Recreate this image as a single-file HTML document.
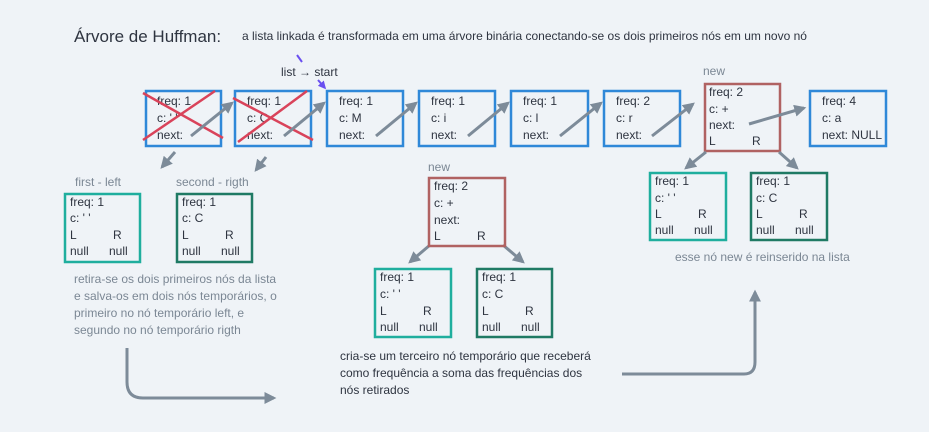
<!DOCTYPE html>
<html><head><meta charset="utf-8"><style>
html,body{margin:0;padding:0;background:#eff3f7;}
svg{display:block;font-family:"Liberation Sans",sans-serif;}
.t{font-size:12px;fill:#2e3440;}
.g{font-size:12px;fill:#7b8794;}
</style></head><body>
<svg width="929" height="432" viewBox="0 0 929 432" xmlns="http://www.w3.org/2000/svg">
<defs>
<marker id="a" viewBox="0 0 10 10" refX="8" refY="5" markerWidth="4" markerHeight="4" orient="auto"><path d="M0,0L10,5L0,10z" fill="#7d8b99"/></marker>
<marker id="p" viewBox="0 0 10 10" refX="8" refY="5" markerWidth="4" markerHeight="4" orient="auto"><path d="M0,0L10,5L0,10z" fill="#6a4ff0"/></marker>
</defs>
<rect width="929" height="432" fill="#eff3f7"/>
<text x="74" y="42" style="font-size:17px;fill:#2e3440">Árvore de Huffman:</text>
<text x="242" y="40" class="t" style="font-size:12px">a lista linkada é transformada em uma árvore binária conectando-se os dois primeiros nós  em um novo nó</text>
<text x="281" y="76" class="t">list → start</text>
<line x1="297" y1="55" x2="302" y2="62" stroke="#6a4ff0" stroke-width="2"/>
<line x1="318" y1="80" x2="325" y2="88" stroke="#6a4ff0" stroke-width="2" marker-end="url(#p)"/>
<g fill="none" stroke="#2f88d8" stroke-width="2.5">
<rect x="146" y="91" width="75" height="55"/><rect x="235" y="91" width="76" height="55"/>
<rect x="327" y="91" width="76" height="55"/><rect x="419" y="91" width="76" height="55"/>
<rect x="511" y="91" width="77" height="55"/><rect x="604" y="91" width="76" height="55"/>
<rect x="810" y="91" width="76" height="55"/>
</g>
<rect x="705" y="84" width="75" height="67" fill="none" stroke="#b06262" stroke-width="2.5"/>
<g class="t">
<text x="157" y="105">freq: 1</text><text x="157" y="122">c: ' '</text><text x="157" y="139">next:</text>
<text x="247" y="105">freq: 1</text><text x="247" y="122">c: C</text><text x="247" y="139">next:</text>
<text x="339" y="105">freq: 1</text><text x="339" y="122">c: M</text><text x="339" y="139">next:</text>
<text x="431" y="105">freq: 1</text><text x="431" y="122">c: i</text><text x="431" y="139">next:</text>
<text x="523" y="105">freq: 1</text><text x="523" y="122">c: l</text><text x="523" y="139">next:</text>
<text x="616" y="105">freq: 2</text><text x="616" y="122">c: r</text><text x="616" y="139">next:</text>
<text x="709" y="96">freq: 2</text><text x="709" y="113">c: +</text><text x="709" y="129">next:</text><text x="709" y="145">L</text><text x="752" y="145">R</text>
<text x="822" y="105">freq: 4</text><text x="822" y="122">c: a</text><text x="822" y="139">next: NULL</text>
</g>
<text x="703" y="75" class="g">new</text>
<g stroke="#d9435a" stroke-width="2.5">
<line x1="143" y1="93" x2="223" y2="138"/><line x1="143" y1="140" x2="215" y2="91"/>
<line x1="233" y1="98" x2="313" y2="140"/><line x1="238" y1="142" x2="307" y2="91"/>
</g>
<g stroke="#7d8b99" stroke-width="3" fill="none" marker-end="url(#a)">
<line x1="191" y1="136" x2="232" y2="103"/><line x1="284" y1="136" x2="324" y2="103"/>
<line x1="376" y1="136" x2="416" y2="103"/><line x1="468" y1="136" x2="508" y2="103"/>
<line x1="560" y1="136" x2="601" y2="103"/><line x1="652" y1="136" x2="693" y2="104"/>
<line x1="749" y1="124" x2="804" y2="108"/>
<line x1="175" y1="152" x2="162" y2="167"/><line x1="266" y1="157" x2="256" y2="170"/>
<line x1="706" y1="152" x2="686" y2="168"/><line x1="779" y1="152" x2="797" y2="168"/>
<line x1="430" y1="245" x2="410" y2="262"/><line x1="503" y1="245" x2="523" y2="262"/>
<path d="M127,348 V382 Q127,398 143,398 H274"/>
<path d="M622,374 H744 Q755,374 755,362 V292"/>
</g>
<text x="75" y="186" class="g">first - left</text>
<text x="176" y="186" class="g">second - rigth</text>
<text x="428" y="171" class="g">new</text>
<rect x="65" y="194" width="75" height="68" fill="none" stroke="#1fae9e" stroke-width="2.5"/>
<rect x="177" y="194" width="75" height="68" fill="none" stroke="#1f7a64" stroke-width="2.5"/>
<rect x="429" y="178" width="76" height="68" fill="none" stroke="#b06262" stroke-width="2.5"/>
<rect x="375" y="269" width="76" height="68" fill="none" stroke="#1fae9e" stroke-width="2.5"/>
<rect x="477" y="269" width="75" height="68" fill="none" stroke="#1f7a64" stroke-width="2.5"/>
<rect x="650" y="173" width="76" height="67" fill="none" stroke="#1fae9e" stroke-width="2.5"/>
<rect x="751" y="173" width="76" height="67" fill="none" stroke="#1f7a64" stroke-width="2.5"/>
<g class="t">
<text x="70" y="206">freq: 1</text><text x="70" y="222">c: ' '</text><text x="70" y="239">L</text><text x="113" y="239">R</text><text x="70" y="255">null</text><text x="109" y="255">null</text>
<text x="182" y="206">freq: 1</text><text x="182" y="222">c: C</text><text x="182" y="239">L</text><text x="225" y="239">R</text><text x="182" y="255">null</text><text x="221" y="255">null</text>
<text x="434" y="190">freq: 2</text><text x="434" y="207">c: +</text><text x="434" y="224">next:</text><text x="434" y="240">L</text><text x="477" y="240">R</text>
<text x="380" y="281">freq: 1</text><text x="380" y="298">c: ' '</text><text x="380" y="315">L</text><text x="423" y="315">R</text><text x="380" y="331">null</text><text x="419" y="331">null</text>
<text x="482" y="281">freq: 1</text><text x="482" y="298">c: C</text><text x="482" y="315">L</text><text x="525" y="315">R</text><text x="482" y="331">null</text><text x="521" y="331">null</text>
<text x="655" y="185">freq: 1</text><text x="655" y="202">c: ' '</text><text x="655" y="218">L</text><text x="698" y="218">R</text><text x="655" y="234">null</text><text x="694" y="234">null</text>
<text x="756" y="185">freq: 1</text><text x="756" y="202">c: C</text><text x="756" y="218">L</text><text x="799" y="218">R</text><text x="756" y="234">null</text><text x="795" y="234">null</text>
<text x="340" y="360">cria-se um terceiro nó temporário que receberá</text>
<text x="340" y="377">como frequência a soma das frequências dos</text>
<text x="340" y="394">nós retirados</text>
</g>
<g class="g">
<text x="74" y="283">retira-se os dois primeiros nós da lista</text>
<text x="74" y="300">e salva-os em dois nós temporários, o</text>
<text x="74" y="317">primeiro no nó temporário left, e</text>
<text x="74" y="334">segundo no nó temporário rigth</text>
<text x="675" y="261">esse nó new é reinserido na lista</text>
</g>
</svg>
</body></html>
